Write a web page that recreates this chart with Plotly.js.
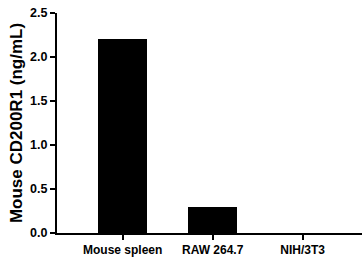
<!DOCTYPE html>
<html><head><meta charset="utf-8">
<script src="https://cdn.plot.ly/plotly-3.0.1.min.js"></script>
<style>html,body{margin:0;padding:0;background:#fff}#c{width:364px;height:262px}</style>
</head><body><div id="c"></div>
<script>
var categories = ["Mouse spleen", "RAW 264.7", "NIH/3T3"];
var values = [2.20, 0.30, 0.0];
var yTicks = [0, 0.5, 1.0, 1.5, 2.0, 2.5];
var yTickLabels = ["0.0", "0.5", "1.0", "1.5", "2.0", "2.5"];

var font = {family: "Liberation Sans, Arial, sans-serif", color: "#000"};
Plotly.newPlot("c", [{
  type: "bar", x: [0,1,2], y: values, width: 0.55,
  marker: {color: "#000", line: {width: 0}}
}], {
  width: 364, height: 262,
  margin: {l: 57, r: 2, t: 13, b: 29},
  paper_bgcolor: "#fff", plot_bgcolor: "#fff",
  showlegend: false,
  bargap: 0,
  xaxis: {
    range: [-0.73, 2.66], tickmode: "array", tickvals: [0,1,2],
    ticktext: categories.map(function(s){return "<b>"+s+"</b>";}),
    showline: true, linewidth: 2, linecolor: "#000", showgrid: false, zeroline: false,
    ticks: "outside", ticklen: 5, tickwidth: 2, tickcolor: "#000",
    tickfont: Object.assign({size: 12}, font)
  },
  yaxis: {
    range: [0, 2.5], tickmode: "array", tickvals: yTicks,
    ticktext: yTickLabels.map(function(s){return "<b>"+s+"</b>";}),
    showline: true, linewidth: 2, linecolor: "#000", showgrid: false, zeroline: false,
    ticks: "outside", ticklen: 5, tickwidth: 2, tickcolor: "#000",
    tickfont: Object.assign({size: 12.5}, font),
    title: {text: "<b>Mouse CD200R1 (ng/mL)</b>", font: Object.assign({size: 17}, font), standoff: 3}
  }
}, {staticPlot: true});
</script></body></html>
